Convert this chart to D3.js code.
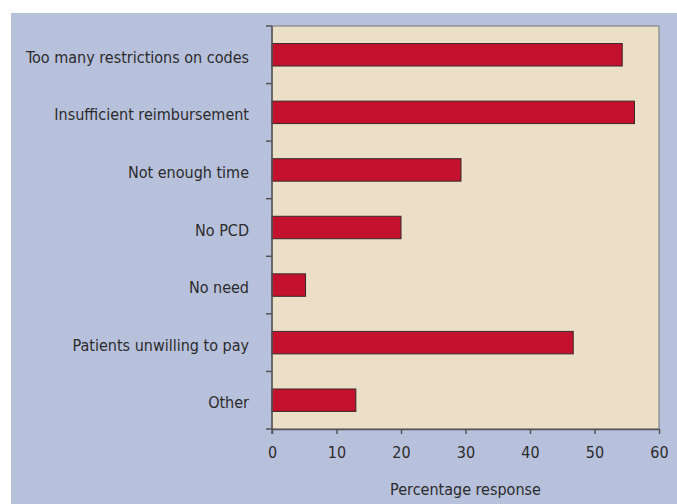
<!DOCTYPE html>
<html>
<head>
<meta charset="utf-8">
<style type="text/css">
html, body{
	padding: 0;
	margin: 0;
	background: white;
}
text{
	font-family: "DejaVu Sans Condensed", "DejaVu Sans", sans-serif;
	font-stretch: condensed;
	fill: #2b2b2b;
}
</style>
</head>
<body>
<svg width=677 height=504></svg>
<script src="https://cdn.jsdelivr.net/npm/d3@7"></script>
<script type="text/javascript">
	var categories = ['Too many restrictions on codes','Insufficient reimbursement','Not enough time','No PCD','No need','Patients unwilling to pay','Other'];
	var values = [54.3, 56.2, 29.3, 20.0, 5.2, 46.7, 13.0];
	var xTicks = [0,10,20,30,40,50,60];
	var xTitle = 'Percentage response';

	var svg = d3.select('svg');
	var m = {left:272, right:659, top:26, bottom:429};

	svg.append('rect')
		.attr('x',11).attr('y',13)
		.attr('width',666).attr('height',491)
		.style('fill','#b8c1dc');

	var x = d3.scaleLinear().domain([0,60]).range([m.left,m.right]);
	var y = d3.scaleBand().domain(categories).range([m.top,m.bottom]).paddingInner(0.61).paddingOuter(0.305);

	// plot background
	svg.append('rect')
		.attr('x',m.left).attr('y',m.top)
		.attr('width',m.right-m.left).attr('height',m.bottom-m.top)
		.style('fill','#ebdfc8')
		.style('stroke','#777')
		.style('stroke-width',1);

	svg.selectAll('.bar')
		.data(values)
		.enter()
		.append('rect')
		.attr('class','bar')
		.attr('x',x(0))
		.attr('y',(d,i)=>y(categories[i]))
		.attr('width',d=>x(d)-x(0))
		.attr('height',y.bandwidth())
		.style('fill','#c3112e')
		.style('stroke','#3a2a2a')
		.style('stroke-width',1);

	// x axis
	var xa = svg.append('g')
		.attr('transform','translate(0,'+m.bottom+')')
		.call(d3.axisBottom(x).tickValues(xTicks).tickSize(5).tickPadding(0).tickSizeOuter(0));
	xa.select('.domain').style('stroke','#555').style('stroke-width',1.5);
	xa.selectAll('line').style('stroke','#555').style('stroke-width',1.5);
	xa.selectAll('text')
		.attr('y',29).attr('dy',0)
		.style('font-size','16px').style('fill','#2b2b2b')
		.style('font-family','"DejaVu Sans Condensed", "DejaVu Sans", sans-serif');

	// y axis: ticks at band boundaries
	var bounds = categories.map(c=>y(c)-y.step()*y.paddingInner()/2).concat([m.bottom]);
	var ya = svg.append('g');
	ya.append('line')
		.attr('x1',m.left).attr('x2',m.left)
		.attr('y1',m.top).attr('y2',m.bottom+5)
		.style('stroke','#555').style('stroke-width',1.5);
	ya.selectAll('.ytick')
		.data(bounds)
		.enter()
		.append('line')
		.attr('x1',m.left-6).attr('x2',m.left)
		.attr('y1',d=>d).attr('y2',d=>d)
		.style('stroke','#555').style('stroke-width',1.5);
	ya.selectAll('.ylab')
		.data(categories)
		.enter()
		.append('text')
		.attr('x',249)
		.attr('y',d=>y(d)+y.bandwidth()/2+8)
		.style('text-anchor','end')
		.style('font-size','16px')
		.text(d=>d);

	svg.append('text')
		.attr('x',(m.left+m.right)/2)
		.attr('y',495)
		.style('text-anchor','middle')
		.style('font-size','16px')
		.text(xTitle);
</script>
</body>
</html>
